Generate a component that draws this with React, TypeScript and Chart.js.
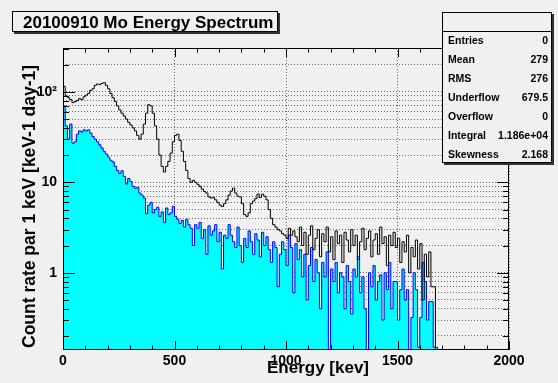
import React, { useEffect, useRef } from "react";
import { Chart, registerables } from "chart.js";

Chart.register(...registerables);

const TITLE = "20100910 Mo Energy Spectrum";
const X_TITLE = "Energy [kev]";
const Y_TITLE = "Count rate par 1 keV [keV-1 day-1]";

const BIN_WIDTH_KEV = 10;
const X_MIN = 0;
const X_MAX = 2000;
const X_LABEL_TICKS = [0, 500, 1000, 1500, 2000];
const X_MINOR_TICKS = [0, 100, 200, 300, 400, 500, 600, 700, 800, 900, 1000, 1100, 1200, 1300, 1400, 1500, 1600, 1700, 1800, 1900, 2000];
const Y_MIN = 0.14;
const Y_MAX = 305;
const Y_TICK_VALUES = [0.2, 0.3, 0.4, 0.5, 0.6, 0.7, 0.8, 0.9, 1, 2, 3, 4, 5, 6, 7, 8, 9, 10, 20, 30, 40, 50, 60, 70, 80, 90, 100, 200, 300];
const Y_LABELS: Record<string, string> = { "1": "1", "10": "10", "100": "10\u00b2" };

// total spectrum, count rate per 10 keV bin starting at 0 keV
const TOTAL_RATE = [
  160, 115, 90, 86, 82, 76, 78, 80, 84, 82,
  88, 92, 96, 104, 108, 118, 122, 120, 124, 126,
  118, 108, 96, 86, 78, 70, 63, 58, 54, 50,
  46, 43, 40, 37, 33, 30, 34, 44, 58, 72,
  70, 58, 42, 30, 20, 15, 13, 15, 17, 21,
  28, 33, 34, 29, 22, 17, 13.5, 11, 10, 10.5,
  10, 9.5, 9.0, 8.4, 7.9, 7.6, 6.9, 6.7, 6.8, 6.4,
  6.0, 5.6, 5.4, 5.8, 6.4, 7.2, 8.0, 8.6, 7.6, 7.0,
  6.9, 5.8, 4.4, 4.2, 4.6, 5.8, 6.2, 6.6, 7.4, 6.8,
  7.4, 7.0, 6.4, 5.0, 4.0, 3.4, 3.2, 3.0, 2.9, 2.7,
  2.6, 2.4, 3.1, 2.6, 2.9, 2.5, 2.2, 3.2, 2.0, 2.8,
  1.6, 2.6, 3.3, 1.8, 2.4, 3.0, 1.5, 2.7, 2.2, 3.2,
  1.7, 2.5, 1.4, 2.9, 2.1, 2.6, 1.3, 2.8, 2.3, 1.7,
  3.0, 2.0, 2.6, 1.4, 2.2, 3.1, 1.8, 2.4, 2.9, 1.5,
  2.3, 2.7, 1.6, 3.2, 2.1, 2.5, 1.2, 2.6, 2.0, 2.8,
  1.9, 2.4, 1.3, 2.2, 1.7, 2.6, 1.0, 1.9, 1.5, 2.3,
  1.1, 2.1, 0.5, 1.6, 0.9, 1.7, 0.7,
];

// Mo spectrum (cyan filled), count rate per 10 keV bin starting at 0 keV
const MO_RATE = [
  130, 70, 42, 30, 44, 27, 28, 34, 37, 36,
  38, 37, 38, 35, 32, 30, 28, 26, 24, 22,
  20.5, 19, 17.5, 16.8, 15, 13.5, 12.5, 13.4, 11.6, 9.6,
  11, 10.2, 9.0, 8.6, 8.8, 7.6, 7.2, 6.7, 4.5, 5.6,
  6.0, 4.6, 5.0, 5.3, 4.2, 4.7, 3.6, 5.2, 4.4, 4.6,
  5.4, 4.2, 3.9, 3.5, 3.8, 3.2, 3.9, 3.4, 3.1, 2.0,
  3.4, 3.1, 3.6, 2.4, 3.0, 1.6, 3.3, 2.6, 2.9, 3.4,
  2.2, 2.8, 1.1, 2.6, 2.4, 3.4, 2.6, 2.2, 1.9, 3.2,
  2.0, 1.3, 2.4, 1.9, 2.9, 2.2, 1.6, 2.7, 2.3, 1.5,
  2.8, 2.0, 2.5, 1.8, 1.3, 2.2, 1.9, 0.7, 1.6, 2.2,
  1.8, 1.2, 2.6, 1.9, 0.6, 2.1, 1.4, 1.8, 0.9, 1.6,
  0.5, 1.2, 1.9, 0.8, 1.4, 1.0, 0.4, 1.3, 0.9, 1.7,
  0.1, 1.1, 0.8, 1.3, 0.6, 1.0, 0.9, 0.4, 1.2, 0.8,
  0.35, 1.1, 0.9, 1.5, 0.6, 0.9, 0.4, 0.1, 1.0, 0.7,
  1.2, 0.5, 0.8, 0.95, 0.3, 1.0, 0.65, 1.3, 0.4, 0.8,
  0.8, 0.3, 0.65, 1.1, 0.5, 0.65, 0.1, 0.32, 1.0, 0.65,
  0.15, 0.32, 1.3, 0.8, 0.3, 0.48, 0.48, 0.15,
];

const STAT_NAMES = ["Entries", "Mean", "RMS", "Underflow", "Overflow", "Integral", "Skewness"];
const STAT_VALUES = ["0", "279", "276", "679.5", "0", "1.186e+04", "2.168"];

const FONT = '"Liberation Sans", Arial, Helvetica, sans-serif';
const BG = "#f0f0f0";
const FLOOR = 0.01;

function histPoints(values: number[]) {
  const pts: { x: number; y: number }[] = [{ x: 0, y: FLOOR }];
  values.forEach((v, i) => pts.push({ x: i * BIN_WIDTH_KEV, y: v }));
  const end = values.length * BIN_WIDTH_KEV;
  pts.push({ x: end, y: values[values.length - 1] });
  pts.push({ x: end, y: FLOOR });
  return pts;
}

const rootDecor = {
  id: "rootDecor",
  afterDraw(chart: any) {
    const ctx: CanvasRenderingContext2D = chart.ctx;
    const { left, right, top, bottom } = chart.chartArea;
    const xs = chart.scales.x;
    const ys = chart.scales.y;
    ctx.save();
    ctx.strokeStyle = "#000";
    ctx.lineWidth = 1;
    ctx.setLineDash([]);
    // inside tick marks
    ctx.beginPath();
    for (const v of X_MINOR_TICKS) {
      const px = Math.round(xs.getPixelForValue(v)) + 0.5;
      const len = X_LABEL_TICKS.includes(v) ? 9 : 4.5;
      ctx.moveTo(px, bottom);
      ctx.lineTo(px, bottom - len);
      ctx.moveTo(px, top);
      ctx.lineTo(px, top + len);
    }
    for (const v of Y_TICK_VALUES) {
      const py = Math.round(ys.getPixelForValue(v)) + 0.5;
      const len = Y_LABELS[String(v)] ? 12 : 6;
      ctx.moveTo(left, py);
      ctx.lineTo(left + len, py);
      ctx.moveTo(right, py);
      ctx.lineTo(right - len, py);
    }
    ctx.stroke();
    // frame
    ctx.strokeRect(left + 0.5, top + 0.5, right - left - 1, bottom - top - 1);

    // title box
    ctx.fillStyle = "#333";
    ctx.fillRect(14, 13, 266, 21);
    ctx.fillStyle = BG;
    ctx.fillRect(12, 11, 266, 21);
    ctx.strokeRect(12.5, 11.5, 265, 20);
    ctx.fillStyle = "#000";
    ctx.font = `bold 17px ${FONT}`;
    ctx.textAlign = "left";
    ctx.textBaseline = "alphabetic";
    ctx.fillText(TITLE, 23, 28);

    // stats box
    const sx = 442, sy = 12, sw = 110, sh = 151;
    ctx.fillStyle = "#333";
    ctx.fillRect(sx + 2, sy + 2, sw, sh);
    ctx.fillStyle = BG;
    ctx.fillRect(sx, sy, sw, sh);
    ctx.strokeRect(sx + 0.5, sy + 0.5, sw - 1, sh - 1);
    ctx.beginPath();
    ctx.moveTo(sx, sy + 19.5);
    ctx.lineTo(sx + sw, sy + 19.5);
    ctx.stroke();
    ctx.fillStyle = "#000";
    ctx.font = `bold 10.5px ${FONT}`;
    ctx.textBaseline = "middle";
    STAT_NAMES.forEach((name, i) => {
      const cy = 41 + i * 19;
      ctx.textAlign = "left";
      ctx.fillText(name, sx + 6, cy);
      ctx.textAlign = "right";
      ctx.fillText(STAT_VALUES[i], sx + sw - 4, cy);
    });

    // axis titles
    ctx.font = `bold 17px ${FONT}`;
    ctx.textAlign = "right";
    ctx.textBaseline = "alphabetic";
    ctx.fillText(X_TITLE, 369, 373);

    ctx.save();
    ctx.translate(35, 348);
    ctx.rotate(-Math.PI / 2);
    ctx.textAlign = "left";
    ctx.font = `bold 17.5px ${FONT}`;
    ctx.fillText(Y_TITLE, 0, 0);
    ctx.restore();

    ctx.restore();
  },
};

export default function App() {
  const canvasRef = useRef<HTMLCanvasElement | null>(null);

  useEffect(() => {
    const canvas = canvasRef.current;
    if (!canvas) return;
    Chart.defaults.font.family = FONT;
    const chart = new Chart(canvas, {
      type: "line",
      data: {
        datasets: [
          {
            label: "Total",
            data: histPoints(TOTAL_RATE),
            stepped: "after",
            borderColor: "#000000",
            borderWidth: 1,
            fill: false,
            pointRadius: 0,
            order: 0,
          },
          {
            label: "Mo",
            data: histPoints(MO_RATE),
            stepped: "after",
            borderColor: "#0000ff",
            backgroundColor: "#00ffff",
            borderWidth: 1,
            fill: "start",
            pointRadius: 0,
            order: 1,
          },
        ],
      },
      options: {
        animation: false,
        responsive: false,
        maintainAspectRatio: false,
        events: [],
        layout: { padding: { top: 48, right: 49, left: 0, bottom: 0 } },
        plugins: {
          legend: { display: false },
          tooltip: { enabled: false },
          title: { display: false },
        },
        scales: {
          x: {
            type: "linear",
            min: X_MIN,
            max: X_MAX,
            afterBuildTicks: (s: any) => {
              s.ticks = X_LABEL_TICKS.map((v) => ({ value: v }));
            },
            afterFit: (s: any) => {
              s.height = 33;
            },
            grid: { color: "#6a6a6a", lineWidth: 1, drawTicks: false },
            border: { display: false, dash: [1, 2] },
            ticks: {
              autoSkip: false,
              maxRotation: 0,
              padding: 3,
              color: "#000",
              font: { size: 14, weight: "bold", family: FONT },
              callback: (v: any) => String(v),
            },
          },
          y: {
            type: "logarithmic",
            min: Y_MIN,
            max: Y_MAX,
            afterBuildTicks: (s: any) => {
              s.ticks = Y_TICK_VALUES.map((v) => ({ value: v }));
            },
            afterFit: (s: any) => {
              s.width = 63;
            },
            grid: { color: "#6a6a6a", lineWidth: 1, drawTicks: false },
            border: { display: false, dash: [1, 2] },
            ticks: {
              autoSkip: false,
              padding: 6,
              color: "#000",
              font: { size: 14, weight: "bold", family: FONT },
              callback: (v: any) => Y_LABELS[String(v)] ?? "",
            },
          },
        },
      },
      plugins: [rootDecor],
    } as any);
    return () => chart.destroy();
  }, []);

  return (
    <div style={{ position: "fixed", left: 0, top: 0, width: 558, height: 383, background: BG }}>
      <canvas ref={canvasRef} width={558} height={383} style={{ display: "block", width: 558, height: 383 }} />
    </div>
  );
}
